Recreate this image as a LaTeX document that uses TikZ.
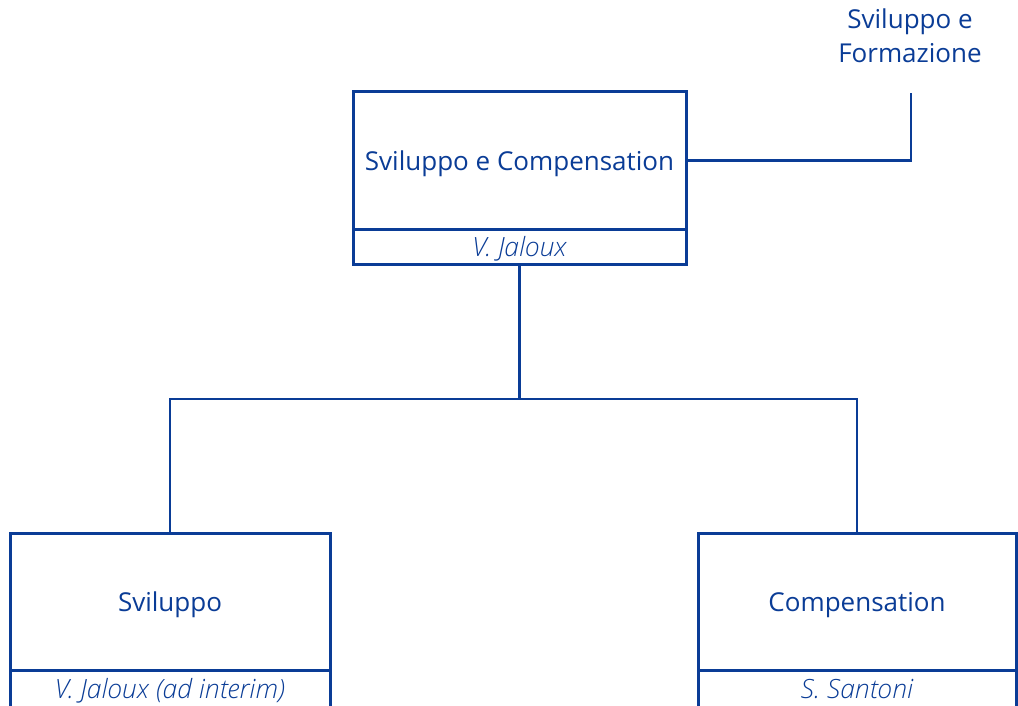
\documentclass[tikz,border=0pt]{standalone}
\usepackage{fontspec}
\setmainfont{Open Sans}
\newfontfamily\namefont{Open Sans Light Italic}
\usepackage{tikz}
\usetikzlibrary{positioning}
\definecolor{orgblue}{RGB}{10,60,150}

\begin{document}
\begin{tikzpicture}[x=1pt,y=-1pt,
		unit/.style={draw=orgblue, line width=3pt, minimum height=137pt, inner sep=0pt, outer sep=0pt,
				text depth=0pt, text=orgblue, font=\fontsize{26}{30}\selectfont},
		holder/.style={draw=orgblue, line width=3pt, minimum height=37pt, inner sep=0pt, outer sep=0pt,
				text depth=0pt, text=orgblue, font=\fontsize{26.5}{28}\namefont},
		link/.style={draw=orgblue, line width=2.2pt}]
			\useasboundingbox (0,0) rectangle (1018,706);

			% head unit
			\node[unit, minimum width=333pt] (top) at (519.5,160.5) {Sviluppo e Compensation};
			\node[holder, minimum width=333pt, minimum height=35pt, below=0pt of top] (topname) {V. Jaloux};

			% staff unit on the right
			\node[text=orgblue, align=center, font=\fontsize{26}{34}\selectfont] (sf) at (910,36) {Sviluppo e\\Formazione};
			\coordinate (sfend) at (911,93);
			\draw[link] (top.east) -| (sfend);

			% sub units
			\node[unit, minimum width=320pt] (left) at (170,601.5) {Sviluppo};
			\node[holder, minimum width=320pt, below=0pt of left] (leftname) {V. Jaloux (ad interim)};
			\node[unit, minimum width=318pt] (right) at (857,601.5) {Compensation};
			\node[holder, minimum width=318pt, below=0pt of right] (rightname) {S. Santoni};

			% tree lines
			\coordinate (fork) at (topname.south |- 0,399);
			\draw[link] (topname.south) -- (fork);
			\draw[link] (fork) -| (left.north);
			\draw[link] (fork) -| (right.north);
		\end{tikzpicture}
\end{document}
